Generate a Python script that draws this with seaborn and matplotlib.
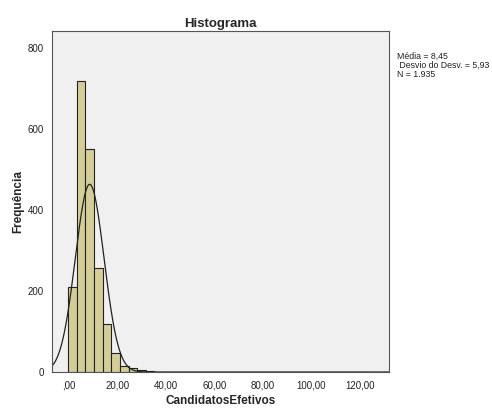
import numpy as np
import pandas as pd
import seaborn as sns
import matplotlib.pyplot as plt

# bin layout
bin_start = -0.4
bin_width = 3.56
bin_counts = [209, 718, 551, 258, 118, 47, 16, 9, 4, 2,
              0, 0, 0, 0, 0, 0, 0, 0, 0, 1,
              0, 0, 0, 0, 0, 0, 0, 0, 0, 0,
              1, 0, 0, 0, 1]

mean = 8.45
sd = 5.93
n = 1935

x_ticks = [0, 20, 40, 60, 80, 100, 120]
x_labels = [",00", "20,00", "40,00", "60,00", "80,00", "100,00", "120,00"]
y_ticks = [0, 200, 400, 600, 800]

edges = bin_start + bin_width * np.arange(len(bin_counts) + 1)
centers = (edges[:-1] + edges[1:]) / 2
df = pd.DataFrame({"CandidatosEfetivos": centers, "count": bin_counts})

sns.set_style("white")
plt.rcParams["font.family"] = ["Liberation Sans", "DejaVu Sans"]

fig = plt.figure(figsize=(4.92, 4.08), dpi=100)
ax = fig.add_axes([0.1057, 0.0882, 0.685, 0.8358])
ax.set_facecolor("#f0f0f0")

sns.histplot(data=df, x="CandidatosEfetivos", weights="count",
             binwidth=bin_width, binrange=(edges[0], edges[-1]),
             color="#d3ce98", edgecolor="#222222", linewidth=0.8, alpha=1, ax=ax)

# fitted normal curve
xs = np.linspace(-7.1, 132, 600)
ys = n * bin_width / (sd * np.sqrt(2 * np.pi)) * np.exp(-0.5 * ((xs - mean) / sd) ** 2)
ax.plot(xs, ys, color="#222222", linewidth=0.9)

ax.set_xlim(-7.1, 132)
ax.set_ylim(0, 842)
ax.set_xticks(x_ticks)
ax.set_xticklabels(x_labels)
ax.set_yticks(y_ticks)
ax.tick_params(axis="both", labelsize=7, length=4, width=0.8, color="#333333",
               labelcolor="#222222", direction="out", pad=2)
for s in ax.spines.values():
    s.set_color("#555555")
    s.set_linewidth(0.8)

ax.set_title("Histograma", fontsize=9.5, fontweight="bold", pad=3)
ax.set_xlabel("CandidatosEfetivos", fontsize=8.5, fontweight="bold", labelpad=3)
ax.set_ylabel("Frequência", fontsize=8.5, fontweight="bold", labelpad=2)

fig.text(0.807, 0.872, "Média = 8,45\n Desvio do Desv. = 5,93\nN = 1.935",
         fontsize=6.3, va="top", ha="left", linespacing=0.95, color="#222222")

fig.savefig("out.png", dpi=100, facecolor="white")
